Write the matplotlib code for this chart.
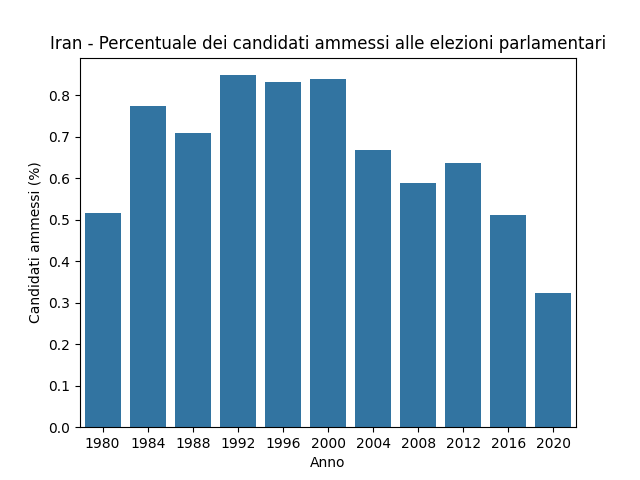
import matplotlib
matplotlib.use("Agg")
import matplotlib.pyplot as plt
import seaborn as sns
import pandas as pd

anni = [1980, 1984, 1988, 1992, 1996, 2000, 2004, 2008, 2012, 2016, 2020]
ammessi = [0.516, 0.773, 0.708, 0.848, 0.831, 0.839, 0.667, 0.588, 0.636, 0.511, 0.323]

df = pd.DataFrame({"Anno": anni, "Candidati ammessi (%)": ammessi})

fig = plt.figure(figsize=(6.4, 4.8), dpi=100)
ax = sns.barplot(data=df, x="Anno", y="Candidati ammessi (%)")
ax.set_title("Iran - Percentuale dei candidati ammessi alle elezioni parlamentari")
fig.savefig("out.png")
